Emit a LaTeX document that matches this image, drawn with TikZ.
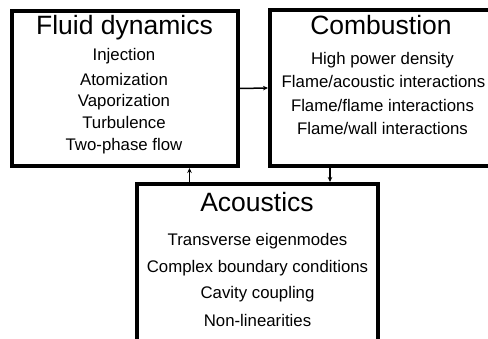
\documentclass[tikz,border=0pt]{standalone}
\usepackage{fontspec}
\setmainfont{Liberation Sans}
\usetikzlibrary{arrows.meta}
\begin{document}
\begin{tikzpicture}[x=1pt,y=-1pt,
  box/.style={draw=black,line width=4pt,rectangle,inner sep=0pt,fill=white},
  head/.style={anchor=base,inner sep=0pt,font=\fontsize{26.5}{26.5}\selectfont},
  item/.style={anchor=base,inner sep=0pt,font=\fontsize{16.8}{16.8}\selectfont},
  link/.style={line width=1.5pt,-{Stealth[length=5pt,width=4.5pt]}}]
\useasboundingbox (0,0) rectangle (488,339);
\clip (0,0) rectangle (488,339);
\fill[white] (0,0) rectangle (488,339);
% boxes
\node[box,minimum width=225.5pt,minimum height=155pt] (fluid) at (124.75,88.5) {};
\node[box,minimum width=250pt,minimum height=156pt] (comb) at (395,88) {};
\node[box,minimum width=241pt,minimum height=170pt] (acou) at (257.5,269) {};
% texts
\node[head] (fh) at (124.5,35) {Fluid dynamics};
\node[item] (f1) at (124,61) {Injection};
\node[item] (f2) at (124,86) {Atomization};
\node[item] (f3) at (124,107) {Vaporization};
\node[item] (f4) at (124,129) {Turbulence};
\node[item] (f5) at (124,150.5) {Two-phase flow};
\node[head] (ch) at (381,35) {Combustion};
\node[item] (c1) at (382.5,65) {High power density};
\node[item] (c2) at (383.5,87.5) {Flame/acoustic interactions};
\node[item] (c3) at (382.5,111.5) {Flame/flame interactions};
\node[item] (c4) at (382.5,135) {Flame/wall interactions};
\node[head] (ah) at (257,212) {Acoustics};
\node[item] (a1) at (257.5,246) {Transverse eigenmodes};
\node[item] (a2) at (257.5,273) {Complex boundary conditions};
\node[item] (a3) at (257.5,299) {Cavity coupling};
\node[item] (a4) at (257.5,327) {Non-linearities};
% connectors
\coordinate (upx) at (189.5,0);
\coordinate (dnx) at (330,0);
\draw[link] (fluid.east) -- (comb.west);
\draw[link] (acou.north -| upx) -- (fluid.south -| upx);
\draw[link] (comb.south -| dnx) -- (acou.north -| dnx);
\end{tikzpicture}
\end{document}
